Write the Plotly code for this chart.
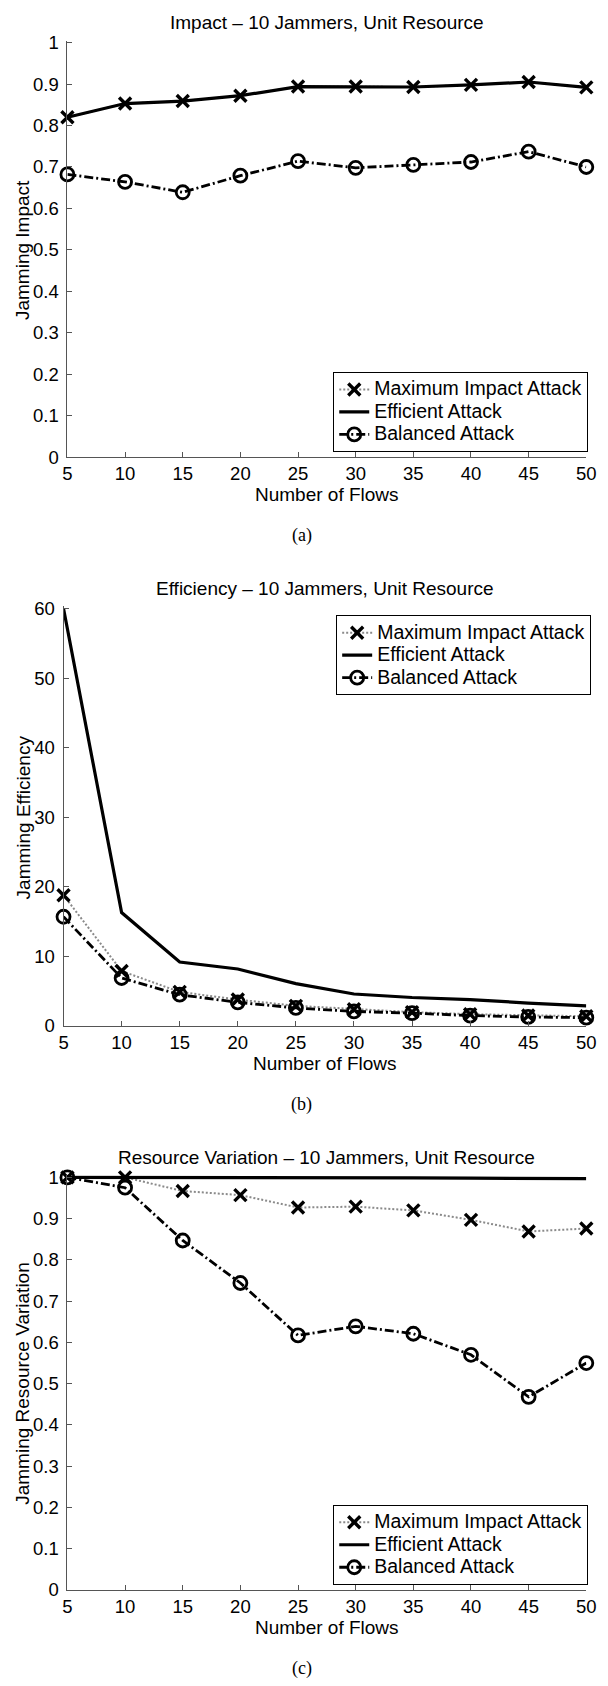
import plotly.graph_objects as go

# ---------------- data ----------------
flows = [5, 10, 15, 20, 25, 30, 35, 40, 45, 50]

impact_max = [0.820, 0.853, 0.859, 0.872, 0.894, 0.894, 0.893, 0.898, 0.905, 0.892]
impact_eff = [0.820, 0.853, 0.859, 0.872, 0.894, 0.894, 0.893, 0.898, 0.905, 0.892]
impact_bal = [0.682, 0.664, 0.639, 0.679, 0.714, 0.698, 0.705, 0.712, 0.737, 0.700]

eff_max = [18.8, 7.9, 4.9, 3.8, 2.9, 2.4, 2.0, 1.7, 1.5, 1.4]
eff_eff = [60.0, 16.3, 9.2, 8.2, 6.1, 4.6, 4.1, 3.8, 3.3, 2.9]
eff_bal = [15.7, 6.9, 4.5, 3.4, 2.6, 2.1, 1.85, 1.5, 1.3, 1.2]

var_max = [1.0, 1.0, 0.967, 0.957, 0.927, 0.929, 0.920, 0.897, 0.869, 0.876]
var_eff = [1.0, 1.0, 1.0, 1.0, 1.0, 1.0, 0.999, 0.998, 0.997, 0.997]
var_bal = [1.0, 0.975, 0.847, 0.744, 0.617, 0.639, 0.621, 0.570, 0.468, 0.550]

series_names = ["Maximum Impact Attack", "Efficient Attack", "Balanced Attack"]
panel_titles = [
    "Impact \u2013 10 Jammers, Unit Resource",
    "Efficiency \u2013 10 Jammers, Unit Resource",
    "Resource Variation \u2013 10 Jammers, Unit Resource",
]
y_titles = ["Jamming Impact", "Jamming Efficiency", "Jamming Resource Variation"]
captions = ["(a)", "(b)", "(c)"]
x_label = "Number of Flows"

unit_ticks = [0, 0.1, 0.2, 0.3, 0.4, 0.5, 0.6, 0.7, 0.8, 0.9, 1]
unit_ticktext = ["0", "0.1", "0.2", "0.3", "0.4", "0.5", "0.6", "0.7", "0.8", "0.9", "1"]
eff_ticks = [0, 10, 20, 30, 40, 50, 60]

# ---------------- geometry helpers ----------------
W, H = 608, 1686
SANS = "Liberation Sans, Arial, Helvetica, sans-serif"
SERIF = "Liberation Serif, Times New Roman, serif"


def px_x(p):
    return p / W


def px_y(p):
    return 1 - p / H


fig = go.Figure()

styles = [
    dict(mode="lines+markers",
         line=dict(color="#8a8a8a", width=2, dash="2px,2px"),
         marker=dict(symbol="x-thin", size=12, color="black",
                     line=dict(width=3.4, color="black"))),
    dict(mode="lines",
         line=dict(color="black", width=3.2)),
    dict(mode="lines+markers",
         line=dict(color="black", width=2.8, dash="9px,3px,2px,3px"),
         marker=dict(symbol="circle-open", size=13, color="black",
                     line=dict(width=2.8, color="black"))),
]

panels = [
    dict(ys=[impact_max, impact_eff, impact_bal], left=64, top=35, bottom=454,
         yrange=[0, 1.005], tickvals=unit_ticks, ticktext=unit_ticktext,
         legend=dict(x=598, y=449, yanchor="bottom")),
    dict(ys=[eff_max, eff_eff, eff_bal], left=60, top=607, bottom=1029,
         yrange=[0, 60.3], tickvals=eff_ticks, ticktext=[str(v) for v in eff_ticks],
         legend=dict(x=601, y=614, yanchor="top")),
    dict(ys=[var_max, var_eff, var_bal], left=64, top=1182, bottom=1599,
         yrange=[0, 1.005], tickvals=unit_ticks, ticktext=unit_ticktext,
         legend=dict(x=598, y=1594, yanchor="bottom")),
]

annotations = []
layout_axes = {}
right = 596
TXT = 19
LEGEND_TXT = 19.5

for i, p in enumerate(panels):
    n = "" if i == 0 else str(i + 1)
    xa, ya = "x" + n, "y" + n
    leg = "legend" + n
    # top of the domain sits a little above the top tick so lines at the max are not clipped
    span = p["bottom"] - p["top"]
    extra = span * (p["yrange"][1] / p["tickvals"][-1] - 1)
    for name, ys, st in zip(series_names, p["ys"], styles):
        label = f'<span style="font-size:{LEGEND_TXT}px">{name}</span>'
        fig.add_trace(go.Scatter(x=flows, y=ys, name=label, xaxis=xa, yaxis=ya,
                                 legend=leg, cliponaxis=False, **st))

    axis_common = dict(showgrid=False, zeroline=False, showline=True,
                       linecolor="#555555", linewidth=1, ticks="inside",
                       ticklen=5, tickwidth=1, tickcolor="#555555",
                       tickfont=dict(family=SANS, size=18.5, color="black"))
    layout_axes["xaxis" + n] = dict(
        domain=[px_x(p["left"]), px_x(right)], anchor=ya, range=[5, 50],
        tickvals=flows, ticktext=[str(f) for f in flows], **axis_common)
    layout_axes["yaxis" + n] = dict(
        domain=[px_y(p["bottom"]), px_y(p["top"] - extra)], anchor=xa,
        range=p["yrange"], tickvals=p["tickvals"], ticktext=p["ticktext"],
        ticklabelstandoff=4, **axis_common)

    lg = p["legend"]
    # compact rows: the entry height follows the base font size
    layout_axes[leg] = dict(
        x=px_x(lg["x"]), xanchor="right", y=px_y(lg["y"]), yanchor=lg["yanchor"],
        bgcolor="white", bordercolor="black", borderwidth=1,
        font=dict(family=SANS, size=15, color="black"), itemwidth=30,
        tracegroupgap=0)

    cx = px_x((p["left"] + right) / 2)
    # panel title
    annotations.append(dict(text=panel_titles[i], x=cx, y=px_y(p["top"] - 20),
                            xref="paper", yref="paper", showarrow=False,
                            xanchor="center", yanchor="middle",
                            font=dict(family=SANS, size=TXT, color="black")))
    # x axis title
    annotations.append(dict(text=x_label, x=cx, y=px_y(p["bottom"] + 38),
                            xref="paper", yref="paper", showarrow=False,
                            xanchor="center", yanchor="middle",
                            font=dict(family=SANS, size=TXT, color="black")))
    # y axis title
    annotations.append(dict(text=y_titles[i], x=px_x(18.6),
                            y=px_y((p["top"] + p["bottom"]) / 2),
                            xref="paper", yref="paper", showarrow=False,
                            textangle=-90, xanchor="center", yanchor="middle",
                            font=dict(family=SANS, size=TXT, color="black")))
    # caption
    annotations.append(dict(text=captions[i], x=px_x(304), y=px_y(p["bottom"] + 79),
                            xref="paper", yref="paper", showarrow=False,
                            xanchor="center", yanchor="middle",
                            font=dict(family=SERIF, size=18, color="black")))

fig.update_layout(
    width=W, height=H, margin=dict(l=0, r=0, t=0, b=0),
    paper_bgcolor="white", plot_bgcolor="white",
    annotations=annotations, **layout_axes)

fig.write_html("out.html")
